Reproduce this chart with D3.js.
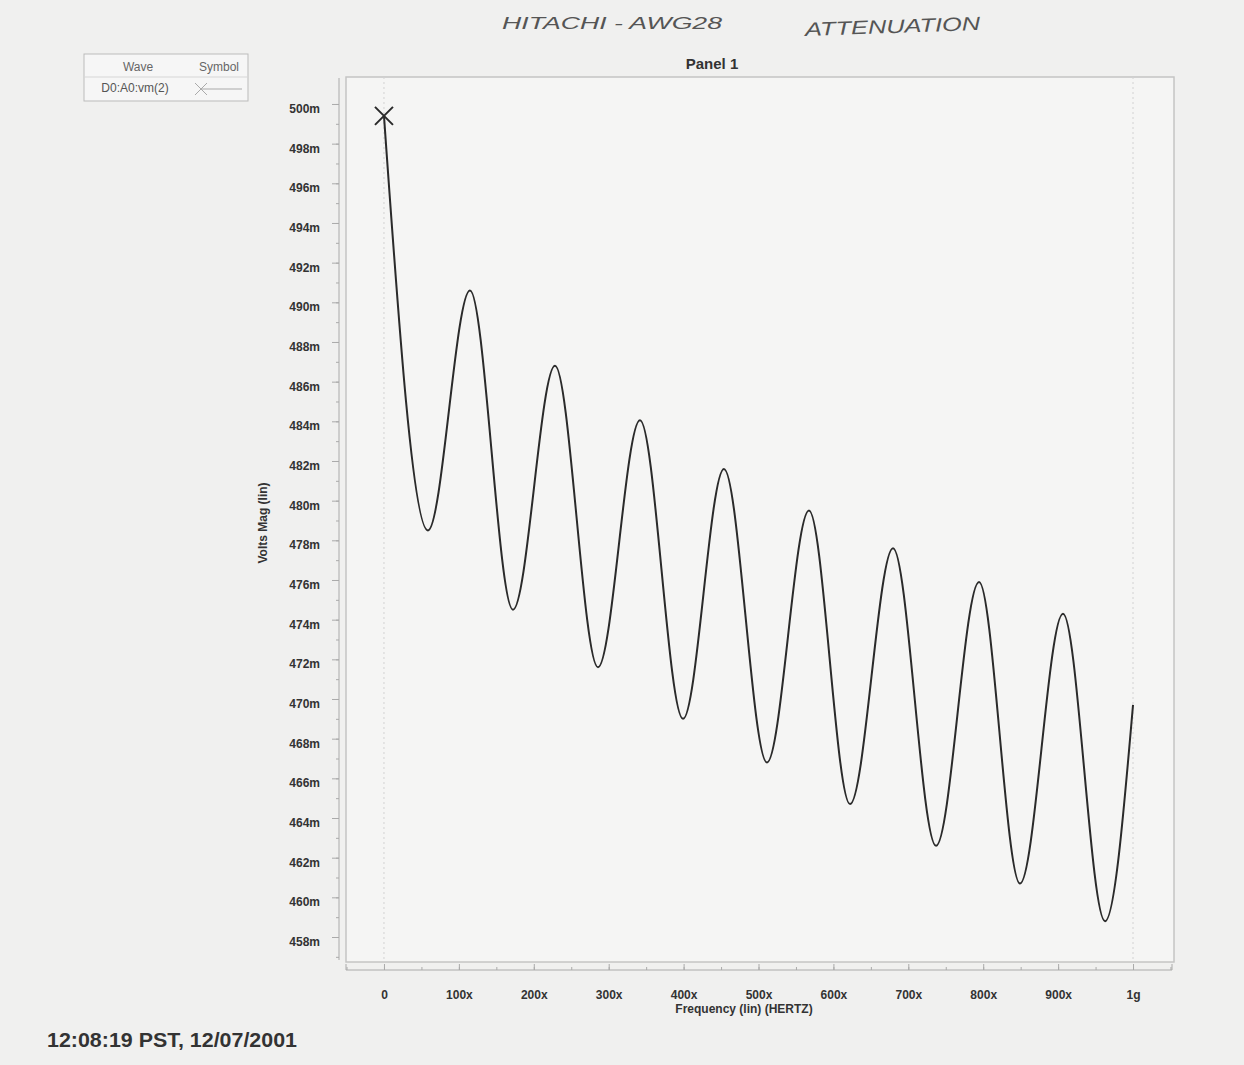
<!DOCTYPE html>
<html>
<head>
<meta charset="utf-8">
<script src="https://cdn.jsdelivr.net/npm/d3@7"></script>
<style>
  html, body { margin: 0; padding: 0; background: #f0f0ef; }
  svg { display: block; }
  text { font-family: "Liberation Sans", Arial, sans-serif; }
</style>
</head>
<body>
<svg id="chart" width="1244" height="1065"></svg>
<script>
// frequency (Hz) and magnitude (mV), at the extremes of the ripple
var freqs = [0, 58.7e6, 114.8e6, 172.2e6, 228.3e6, 285.7e6, 341.8e6, 399.2e6, 453.9e6,
             511.3e6, 567.4e6, 622.2e6, 679.6e6, 737.0e6, 794.4e6, 849.1e6, 906.5e6, 962.6e6, 1000e6];
var volts = [499.4, 478.5, 490.6, 474.5, 486.8, 471.6, 484.05, 469.0, 481.6,
             466.8, 479.5, 464.7, 477.6, 462.6, 475.9, 460.7, 474.3, 458.8, 469.7];
var yTicks = [458, 460, 462, 464, 466, 468, 470, 472, 474, 476, 478, 480, 482, 484, 486, 488, 490, 492, 494, 496, 498, 500];
var xTicks = [0, 100e6, 200e6, 300e6, 400e6, 500e6, 600e6, 700e6, 800e6, 900e6, 1000e6];
var xTickLabels = ["0", "100x", "200x", "300x", "400x", "500x", "600x", "700x", "800x", "900x", "1g"];

var svg = d3.select("#chart");
var frame = {left: 346, top: 77, right: 1174, bottom: 962};

var x = d3.scaleLinear().domain([-50.7e6, 1054.7e6]).range([frame.left, frame.right]);
var y = d3.scaleLinear().domain([456.74, 501.36]).range([frame.bottom, frame.top]);

// handwritten notes at the top
svg.append("text").attr("x", 502).attr("y", 29)
  .attr("font-family", "DejaVu Sans").attr("font-style", "italic").attr("font-size", 17)
  .attr("fill", "#555").attr("textLength", 220).attr("lengthAdjust", "spacingAndGlyphs")
  .text("HITACHI - AWG28");
svg.append("text").attr("x", 805).attr("y", 33)
  .attr("font-family", "DejaVu Sans").attr("font-style", "italic").attr("font-size", 19)
  .attr("fill", "#555").attr("textLength", 175).attr("lengthAdjust", "spacingAndGlyphs")
  .attr("transform", "rotate(-2,890,25)")
  .text("ATTENUATION");

// legend box
var leg = svg.append("g");
leg.append("rect").attr("x", 84).attr("y", 54).attr("width", 164).attr("height", 47)
  .attr("fill", "#f6f6f6").attr("stroke", "#bbb");
leg.append("line").attr("x1", 84).attr("x2", 248).attr("y1", 77).attr("y2", 77).attr("stroke", "#d6d6d6");
leg.append("text").attr("x", 138).attr("y", 71).attr("text-anchor", "middle")
  .attr("font-size", 12).attr("fill", "#666").text("Wave");
leg.append("text").attr("x", 219).attr("y", 71).attr("text-anchor", "middle")
  .attr("font-size", 12).attr("fill", "#666").text("Symbol");
leg.append("text").attr("x", 135).attr("y", 92).attr("text-anchor", "middle")
  .attr("font-size", 12).attr("fill", "#555").text("D0:A0:vm(2)");
leg.append("path").attr("d", "M195,83L207,95M195,95L207,83M201,89L242,89")
  .attr("stroke", "#aaa").attr("fill", "none");

// panel title
svg.append("text").attr("x", 712).attr("y", 69).attr("text-anchor", "middle")
  .attr("font-size", 15).attr("font-weight", "bold").attr("fill", "#333").text("Panel 1");

// plot frame
svg.append("rect").attr("x", frame.left).attr("y", frame.top)
  .attr("width", frame.right - frame.left).attr("height", frame.bottom - frame.top)
  .attr("fill", "#f5f5f4").attr("stroke", "#c4c4c4").attr("stroke-width", 1.5);

// dotted grid at 0 and 1g
svg.selectAll(".vgrid").data([0, 1000e6]).enter().append("line")
  .attr("x1", d => x(d)).attr("x2", d => x(d))
  .attr("y1", frame.top).attr("y2", frame.bottom)
  .attr("stroke", "#d2d2d2").attr("stroke-dasharray", "2,3");

// y axis (sits left of the frame)
var yAxisMinor = d3.axisLeft(y).tickValues(d3.range(457, 501, 1)).tickSize(3).tickFormat("");
svg.append("g").attr("transform", "translate(339,0)").call(yAxisMinor)
  .call(g => g.select(".domain").remove())
  .call(g => g.selectAll("line").attr("stroke", "#aaa"));
var yAxis = d3.axisLeft(y).tickValues(yTicks).tickSize(7).tickPadding(12)
  .tickFormat(d => d + "m");
svg.append("g").attr("transform", "translate(339,0)").call(yAxis)
  .call(g => g.select(".domain").attr("d", "M0," + (frame.top + 1) + "V" + (frame.bottom - 2)).attr("stroke", "#aaa"))
  .call(g => g.selectAll("line").attr("stroke", "#aaa"))
  .call(g => g.selectAll("text").attr("font-size", 12).attr("font-weight", "bold")
    .attr("fill", "#333").attr("font-family", "Liberation Sans, Arial, sans-serif").attr("dy", "0.7em"));

// x axis (below the frame, ticks pointing up)
var xAxisMinor = d3.axisTop(x).tickValues(d3.range(-50e6, 1051e6, 50e6)).tickSize(3).tickFormat("");
svg.append("g").attr("transform", "translate(0,970)").call(xAxisMinor)
  .call(g => g.select(".domain").remove())
  .call(g => g.selectAll("line").attr("stroke", "#aaa"));
var xAxis = d3.axisTop(x).tickValues(xTicks).tickSize(6)
  .tickFormat((d, i) => xTickLabels[i]);
svg.append("g").attr("transform", "translate(0,970)").call(xAxis)
  .call(g => g.select(".domain").attr("d", "M" + frame.left + ",-6V0H" + (frame.right - 2) + "V-6").attr("stroke", "#aaa").attr("fill", "none"))
  .call(g => g.selectAll("line").attr("stroke", "#aaa"))
  .call(g => g.selectAll("text").attr("font-size", 12).attr("font-weight", "bold")
    .attr("fill", "#333").attr("font-family", "Liberation Sans, Arial, sans-serif")
    .attr("y", 29));

// axis titles
svg.append("text").attr("x", 744).attr("y", 1013).attr("text-anchor", "middle")
  .attr("font-size", 12).attr("font-weight", "bold").attr("fill", "#333")
  .text("Frequency (lin) (HERTZ)");
svg.append("text").attr("transform", "translate(267,523) rotate(-90)").attr("text-anchor", "middle")
  .attr("font-size", 12).attr("font-weight", "bold").attr("fill", "#333")
  .text("Volts Mag (lin)");

// the wave
var pts = freqs.map((f, i) => [f, volts[i]]);
var line = d3.line().x(d => x(d[0])).y(d => y(d[1])).curve(d3.curveMonotoneX);
svg.append("path").datum(pts).attr("d", line)
  .attr("fill", "none").attr("stroke", "#2a2a2a").attr("stroke-width", 2);

// start marker
var mx = x(freqs[0]), my = y(volts[0]);
svg.append("path")
  .attr("d", "M" + (mx - 9) + "," + (my - 9) + "L" + (mx + 9) + "," + (my + 9) +
             "M" + (mx - 9) + "," + (my + 9) + "L" + (mx + 9) + "," + (my - 9))
  .attr("stroke", "#2a2a2a").attr("stroke-width", 2);

// timestamp
svg.append("text").attr("x", 47).attr("y", 1047)
  .attr("font-size", 20).attr("font-weight", "bold").attr("fill", "#333")
  .attr("textLength", 250).attr("lengthAdjust", "spacingAndGlyphs")
  .text("12:08:19 PST, 12/07/2001");
</script>
</body>
</html>
